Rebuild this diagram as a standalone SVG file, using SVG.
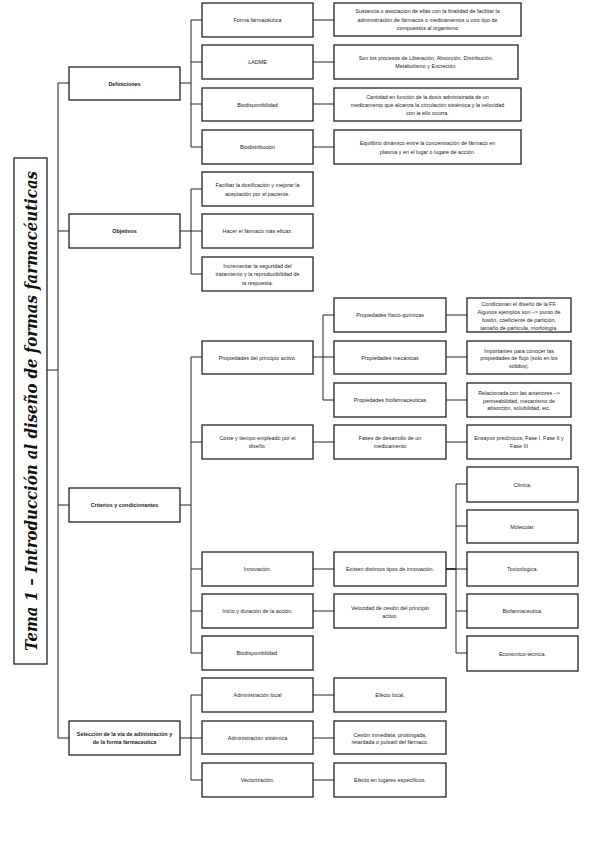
<svg xmlns="http://www.w3.org/2000/svg" width="599" height="848" viewBox="0 0 599 848">
<style>
rect{fill:#fff;stroke:#222;stroke-width:1.3}
.c path{fill:none;stroke:#222;stroke-width:1}
text{font-family:"Liberation Sans",Arial,sans-serif;font-size:5.4px;fill:#222;text-anchor:middle;dominant-baseline:central}
.b{font-weight:bold}
.t{font-family:"DejaVu Serif","Liberation Serif",serif;font-size:17px;font-weight:bold;font-style:italic;fill:#111}
</style>
<g class="c">
<path d="M47 370H58M58 83V738M58 83H69M58 231H69M58 505H69M58 738H69"/>
<path d="M180 83H191M191 20V147M191 20H202M191 62H202M191 104H202M191 147H202"/>
<path d="M313 20H334M313 62H334M313 104H334M313 147H334"/>
<path d="M180 231H202M191 189V274M191 189H202M191 274H202"/>
<path d="M180 505H191M191 357V653M191 357H202M191 442H202M191 569H202M191 611H202M191 653H202"/>
<path d="M313 357H334M323 315V400M323 315H334M323 400H334"/>
<path d="M446 315H467M446 357H467M446 400H467"/>
<path d="M313 442H334M446 442H467"/>
<path d="M313 569H334M313 611H334"/>
<path d="M446 569H456" style="stroke-width:1.8"/>
<path d="M456 484V653M456 484H467M456 526H467M456 569H467M456 611H467M456 653H467"/>
<path d="M180 738H202M191 695V780M191 695H202M191 780H202"/>
<path d="M313 695H334M313 738H334M313 780H334"/>
</g>
<g id="title"><rect x="14" y="158" width="33" height="506"/><text class="t" transform="translate(31 411) rotate(-90)" textLength="480" lengthAdjust="spacingAndGlyphs">Tema 1 – Introducción al diseño de formas farmacéuticas</text></g>
<g id="definiciones"><rect x="69" y="67" width="111" height="33"/><text class="b" x="124.5" y="83.5">Definiciones</text></g>
<g id="objetivos"><rect x="69" y="214" width="111" height="34"/><text class="b" x="124.5" y="231">Objetivos</text></g>
<g id="criterios"><rect x="69" y="488" width="111" height="34"/><text class="b" x="124.5" y="505">Criterios y condicionantes</text></g>
<g id="seleccion"><rect x="69" y="721" width="111" height="34"/><text class="b" x="124.5" y="734">Selección de la vía de adinistración y</text><text class="b" x="124.5" y="742">de la forma farmaceutica</text></g>
<g id="forma"><rect x="202" y="3" width="111" height="34"/><text x="257.5" y="20">Forma farmacéutica</text></g>
<g id="ladme"><rect x="202" y="45" width="111" height="34"/><text x="257.5" y="62">LADME</text></g>
<g id="biodisp"><rect x="202" y="88" width="111" height="33"/><text x="257.5" y="104.5">Biodisponibilidad</text></g>
<g id="biodist"><rect x="202" y="130" width="111" height="34"/><text x="257.5" y="147">Biodistribución</text></g>
<g id="def-forma"><rect x="334" y="3" width="187" height="33"/><text x="427.5" y="11.3">Sustancia o asociación de ellas con la finalidad de facilitar la</text><text x="427.5" y="19.6">administración de fármacos o medicamentos u otro tipo de</text><text x="427.5" y="27.9">compuestos al organismo</text></g>
<g id="def-ladme"><rect x="334" y="45" width="184" height="34"/><text x="426" y="57.5">Son los procesos de Liberación, Absorción, Distribución,</text><text x="426" y="66.3">Metabolismo y Excreción.</text></g>
<g id="def-biodisp"><rect x="334" y="88" width="187" height="33"/><text x="427.5" y="96.5">Cantidad en función de la dosis administrada de un</text><text x="427.5" y="104.8">medicamento que alcanza la circulación sistémica y la velocidad</text><text x="427.5" y="113.1">con la ello ocurra.</text></g>
<g id="def-biodist"><rect x="334" y="130" width="187" height="34"/><text x="427.5" y="143.2">Equilibrio dinámico entre la concentración de fármaco en</text><text x="427.5" y="151.7">plasma y en el lugar o lugare de acción.</text></g>
<g id="obj1"><rect x="202" y="172" width="111" height="34"/><text x="257.5" y="185">Facilitar la dosificación y mejorar la</text><text x="257.5" y="194">aceptación por el paciente.</text></g>
<g id="obj2"><rect x="202" y="214" width="111" height="34"/><text x="257.5" y="231">Hacer el fármaco más eficaz.</text></g>
<g id="obj3"><rect x="202" y="257" width="111" height="34"/><text x="257.5" y="266">Incrementar la seguridad del</text><text x="257.5" y="274.3">tratamiento y la reproducibilidad de</text><text x="257.5" y="282.6">la respuesta.</text></g>
<g id="prop-pa"><rect x="202" y="341" width="111" height="33"/><text x="257.5" y="357.5">Propiedades del principio activo.</text></g>
<g id="coste"><rect x="202" y="425" width="111" height="34"/><text x="257.5" y="438">Coste y tiempo empleado por el</text><text x="257.5" y="446">diseño.</text></g>
<g id="innovacion"><rect x="202" y="552" width="111" height="34"/><text x="257.5" y="569">Innovación.</text></g>
<g id="inicio"><rect x="202" y="594" width="111" height="34"/><text x="257.5" y="611">Inicio y duración de la acción.</text></g>
<g id="biodisp2"><rect x="202" y="636" width="111" height="34"/><text x="257.5" y="653">Biodisponibilidad.</text></g>
<g id="fq"><rect x="334" y="298" width="112" height="34"/><text x="390" y="315">Propiedades físico-químicas</text></g>
<g id="mec"><rect x="334" y="341" width="112" height="33"/><text x="390" y="357.5">Propiedades mecánicas</text></g>
<g id="biof"><rect x="334" y="383" width="112" height="34"/><text x="390" y="400">Propiedades biofarmaceuticas</text></g>
<g id="fq-d"><rect x="467" y="298" width="104" height="34"/><text x="519" y="304.3">Condicionan el diseño de la FF.</text><text x="519" y="312.2">Algunos ejemplos son –&gt; punto de</text><text x="519" y="320.1">fusión, coeficiente de partición,</text><text x="519" y="328">tamaño de partícula, morfología.</text></g>
<g id="mec-d"><rect x="467" y="341" width="104" height="33"/><text x="519" y="350.5">Importantes para conocer las</text><text x="519" y="358.3">propiedades de flujo (solo en los</text><text x="519" y="366.1">sólidos).</text></g>
<g id="biof-d"><rect x="467" y="383" width="104" height="34"/><text x="519" y="393">Relacionada con las anteriores –&gt;</text><text x="519" y="400.6">permeabilidad, mecanismo de</text><text x="519" y="408.2">absorción, solubilidad, etc.</text></g>
<g id="fases"><rect x="334" y="425" width="112" height="34"/><text x="390" y="438">Fases de desarrollo de un</text><text x="390" y="446">medicamento</text></g>
<g id="ensayos"><rect x="467" y="425" width="104" height="34"/><text x="519" y="438">Ensayos preclínicos, Fase I, Fase II y</text><text x="519" y="446">Fase III</text></g>
<g id="existen"><rect x="334" y="552" width="112" height="34"/><text x="390" y="569">Existen distintos tipos de innovación.</text></g>
<g id="velocidad"><rect x="334" y="594" width="112" height="34"/><text x="390" y="607.5">Velocidad de cesión del principio</text><text x="390" y="615.5">activo.</text></g>
<g id="clinica"><rect x="467" y="467" width="111" height="35"/><text x="522.5" y="484.5">Clínica.</text></g>
<g id="molecular"><rect x="467" y="510" width="111" height="33"/><text x="522.5" y="526.5">Molecular.</text></g>
<g id="toxico"><rect x="467" y="552" width="111" height="34"/><text x="522.5" y="569">Toxicologica.</text></g>
<g id="biofarm"><rect x="467" y="594" width="111" height="34"/><text x="522.5" y="611">Biofarmaceutica.</text></g>
<g id="economico"><rect x="467" y="636" width="111" height="35"/><text x="522.5" y="653.5">Economico-tecnica.</text></g>
<g id="adm-local"><rect x="202" y="678" width="111" height="34"/><text x="257.5" y="695">Administración local</text></g>
<g id="adm-sist"><rect x="202" y="721" width="111" height="33"/><text x="257.5" y="737.5">Administración sistémica</text></g>
<g id="vector"><rect x="202" y="763" width="111" height="34"/><text x="257.5" y="780">Vectorización.</text></g>
<g id="ef-local"><rect x="334" y="678" width="112" height="34"/><text x="390" y="695">Efecto local.</text></g>
<g id="cesion"><rect x="334" y="721" width="112" height="33"/><text x="390" y="734.5">Cesión inmediata, prolongada,</text><text x="390" y="742">retardada o pulsatil del fármaco.</text></g>
<g id="ef-esp"><rect x="334" y="763" width="112" height="34"/><text x="390" y="780">Efecto en lugares específicos.</text></g>
</svg>
